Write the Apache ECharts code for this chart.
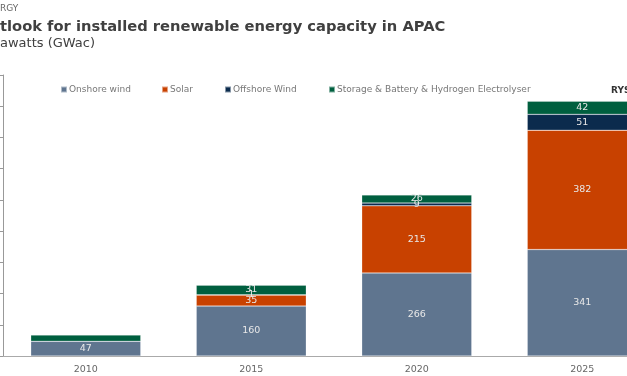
<!DOCTYPE html>
<html>
<head>
<meta charset="utf-8">
<script src="https://cdn.jsdelivr.net/npm/echarts@6/dist/echarts.min.js"></script>
<style>
html,body{margin:0;padding:0;background:#fff;overflow:hidden;width:627px;height:376px;}
#c{width:666px;height:376px;}
</style>
</head>
<body>
<div id="c"></div>
<script>
var categories = ['2010', '2015', '2020', '2025'];
var seriesNames = ['Onshore wind', 'Solar', 'Offshore Wind', 'Storage & Battery & Hydrogen Electrolyser'];
var onshoreWind = [47, 160, 266, 341];
var solar = [0, 35, 215, 382];
var offshoreWind = [0, 1, 9, 51];
var storage = [20, 31, 26, 42];
var yTicks = [0, 100, 200, 300, 400, 500, 600, 700, 800, 900];
var hiddenLabel = {'3-0': true};

var colors = ['#5f758f', '#c84100', '#0b2b4d', '#005f3f'];
var values = [onshoreWind, solar, offshoreWind, storage];
var legendLeft = [60, 161, 224, 328];
var FONT = 'DejaVu Sans';

var chart = echarts.init(document.getElementById('c'), null, {renderer: 'canvas'});

var series = seriesNames.map(function (name, si) {
  return {
    name: name,
    type: 'bar',
    stack: 'total',
    barWidth: 110,
    itemStyle: {color: colors[si], borderColor: 'rgba(255,255,255,0.5)', borderWidth: 0.5},
    label: {
      show: true,
      position: 'inside',
      color: '#e8e8e8',
      fontSize: 9.5,
      fontFamily: FONT,
      formatter: function (p) {
        if (!p.value || hiddenLabel[si + '-' + p.dataIndex]) return '';
        return String(p.value);
      }
    },
    labelLayout: {hideOverlap: false},
    data: values[si].map(function (v) { return v === 0 ? null : v; })
  };
});

var legends = seriesNames.map(function (name, i) {
  return {
    data: [name],
    left: legendLeft[i],
    top: 85,
    padding: 0,
    itemWidth: 6,
    itemHeight: 6,
    itemGap: 0,
    icon: 'rect',
    selectedMode: false,
    textStyle: {color: '#777', fontSize: 9, fontFamily: FONT, padding: [0, 0, 0, -3]}
  };
});

chart.setOption({
  animation: false,
  textStyle: {fontFamily: FONT},
  color: colors,
  legend: legends,
  grid: {left: 3, top: 75, right: 1, height: 281, containLabel: false},
  xAxis: {
    type: 'category',
    data: categories,
    axisLine: {lineStyle: {color: '#aaaaaa', width: 1}},
    axisTick: {show: false},
    axisLabel: {color: '#666', fontSize: 9.5, fontFamily: FONT, margin: 9}
  },
  yAxis: {
    type: 'value',
    min: yTicks[0],
    max: yTicks[yTicks.length - 1],
    interval: yTicks[1] - yTicks[0],
    axisLine: {show: true, lineStyle: {color: '#999'}},
    axisTick: {show: true, length: 3, lineStyle: {color: '#999'}},
    axisLabel: {show: false},
    splitLine: {show: false}
  },
  graphic: [
    {type: 'text', left: 0, top: 4, style: {text: 'RGY', fill: '#666', font: '9px "DejaVu Sans"'}},
    {type: 'text', left: 0, top: 20, style: {text: 'tlook for installed renewable energy capacity in APAC', fill: '#404040', font: 'bold 14.7px "DejaVu Sans"'}},
    {type: 'text', left: 0, top: 37, style: {text: 'awatts (GWac)', fill: '#404040', font: '13px "DejaVu Sans"'}},
    {type: 'text', left: 611, top: 86, style: {text: 'RYS', fill: '#333', font: 'bold 9px "DejaVu Sans"'}}
  ],
  series: series
});
</script>
</body>
</html>
